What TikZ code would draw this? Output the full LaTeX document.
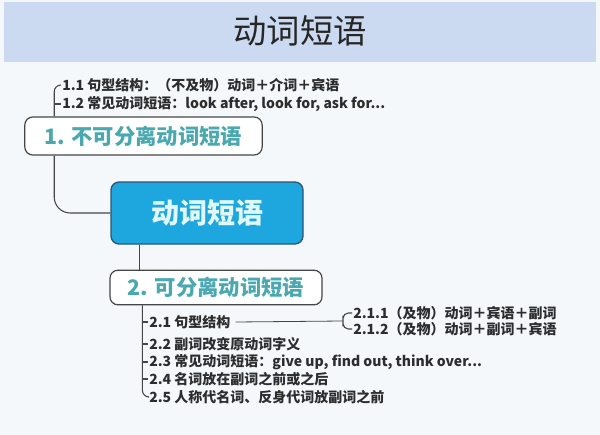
\documentclass[tikz,border=0pt]{standalone}
\usepackage{fontspec}
\setmainfont{Noto Sans CJK SC}
\usetikzlibrary{positioning}
\definecolor{bandblue}{RGB}{203,218,240}
\definecolor{pagebg}{RGB}{244,248,251}
\definecolor{coreblue}{RGB}{30,166,222}
\definecolor{coreline}{RGB}{42,86,116}
\definecolor{tealtext}{RGB}{74,168,176}
\definecolor{itemtext}{RGB}{45,45,45}
\definecolor{branch}{RGB}{70,70,70}
\tikzset{
  sepbox/.style={draw=branch,fill=white,rounded corners=6pt,line width=0.9pt,
    font=\fontsize{16}{18}\selectfont\bfseries,text=tealtext,inner sep=0pt},
  item/.style={anchor=west,inner sep=0.75pt,font=\fontsize{10.5}{12}\selectfont\bfseries,text=itemtext},
  branchline/.style={draw=branch,line width=0.8pt}
}
\begin{document}
\begin{tikzpicture}[x=0.75pt,y=0.75pt,yscale=-1,xscale=1]
\useasboundingbox (0,0) rectangle (600,435);
%Background
\fill [pagebg] (0,0) rectangle (600,435);
\fill [bandblue] (4,2) rectangle (596,62);

% Title Node
\node (title) at (300,31) [font=\fontsize{25}{28}\selectfont,text=black!85] {动词短语};

% Main nodes
\node (core) at (207,213) [draw=coreline,fill=coreblue,rounded corners=6pt,line width=1pt,
  minimum width=144pt,minimum height=46.5pt,font=\fontsize{21}{24}\selectfont\bfseries,
  text={rgb,255:red,224;green,248;blue,248}] {动词短语};
\node (sep1) at (143.5,136) [sepbox,minimum width=178pt,minimum height=28.5pt] {1. 不可分离动词短语};
\node (sep2) at (216,287.5) [sepbox,minimum width=159pt,minimum height=26pt] {2. 可分离动词短语};

% Items of 1
\node (i11) at (61,85) [item] {1.1 句型结构：（不及物）动词＋介词＋宾语};
\node (i12) at (61,104) [item] {1.2 常见动词短语：look after, look for, ask for...};

% Items of 2
\node (i21) at (148,322) [item] {2.1 句型结构};
\node (i22) at (148,344) [item] {2.2 副词改变原动词字义};
\node (i23) at (148,362) [item] {2.3 常见动词短语：give up, find out, think over...};
\node (i24) at (148,379) [item] {2.4 名词放在副词之前或之后};
\node (i25) at (148,397) [item] {2.5 人称代名词、反身代词放副词之前};
\node (i211) at (352,313) [item] {2.1.1（及物）动词＋宾语＋副词};
\node (i212) at (352,329) [item] {2.1.2（及物）动词＋副词＋宾语};
\coordinate (fork) at (343,321);

%Connectors
\draw [branchline,rounded corners=12pt] ([xshift=22.5pt]sep1.south west) |- (core.west);
\draw [branchline] ([xshift=22pt]core.south west) -- ([xshift=22pt]core.south west |- sep2.north);
\draw [branchline,rounded corners=5pt] ([xshift=22.5pt]sep1.north west) |- (i11.west);
\draw [branchline] ([xshift=22.5pt]sep1.north west |- i12.west) -- (i12.west);
\draw [branchline,rounded corners=5pt] ([xshift=24.75pt]sep2.south west) |- (i25.west);
\foreach \n in {i21,i22,i23,i24}
  \draw [branchline] ([xshift=24.75pt]sep2.south west |- \n.west) -- (\n.west);
\draw [branchline,line width=0.6pt] ([xshift=3pt]i21.east) -- (fork);
\draw [branchline,rounded corners=4pt] (i211.west) -| (fork) |- (i212.west);

\end{tikzpicture}
\end{document}
